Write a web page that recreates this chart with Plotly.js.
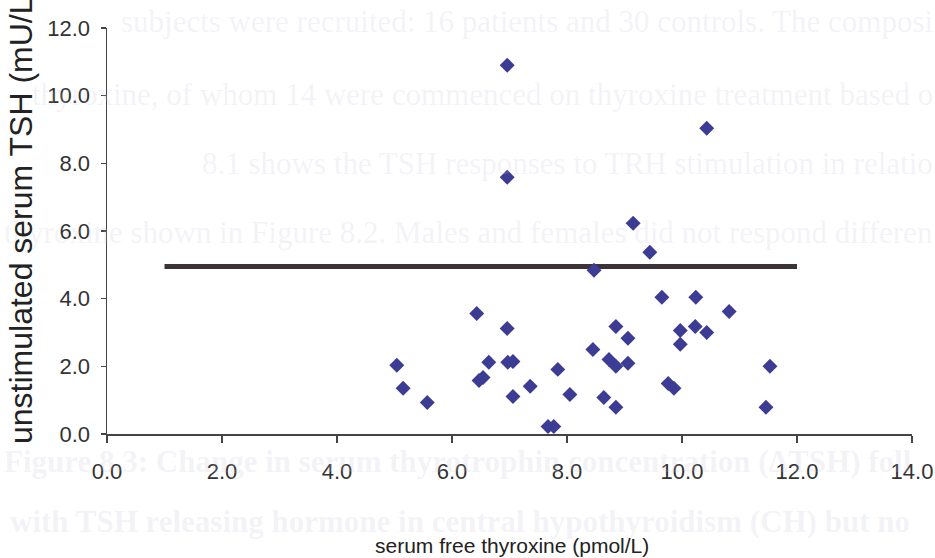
<!DOCTYPE html>
<html>
<head>
<meta charset="utf-8">
<script src="https://cdn.plot.ly/plotly-3.0.1.min.js"></script>
<style>html,body{margin:0;padding:0;background:#fff;}#chart{width:935px;height:558px;}</style>
</head>
<body>
<div id="chart"></div>
<script>
// serum free thyroxine (pmol/L)
var freeT4 = [5.04, 5.15, 5.57, 5.97, 6.43, 6.96, 6.64, 6.47, 6.54, 6.97, 7.06, 7.06, 7.36, 7.84,
              7.67, 7.77, 8.05, 9.65, 10.24, 10.82, 8.85, 9.06, 8.45, 8.73, 8.85, 9.06, 9.97, 9.97,
              10.23, 10.43, 9.76, 9.86, 11.53, 11.46, 8.64, 8.85, 6.96, 10.43, 6.96, 9.15, 9.44, 8.47];
// unstimulated serum TSH (mU/L)
var tsh = [2.03, 1.35, 0.93, -0.1, 3.56, 3.12, 2.12, 1.58, 1.67, 2.12, 2.14, 1.11, 1.41, 1.91,
           0.22, 0.22, 1.17, 4.04, 4.04, 3.62, 3.18, 2.83, 2.50, 2.20, 2.00, 2.09, 3.06, 2.65,
           3.18, 3.00, 1.49, 1.35, 2.00, 0.79, 1.08, 0.79, 10.9, 9.04, 7.59, 6.23, 5.37, 4.84];
// reference line
var refX = [1, 12];
var refY = [4.95, 4.95];
// tick values
var xTicks = [0, 2, 4, 6, 8, 10, 12, 14];
var yTicks = [0, 2, 4, 6, 8, 10, 12];
var xTitle = "serum free thyroxine (pmol/L)";
var yTitle = "unstimulated serum TSH (mU/L)";
// faint show-through text of the scanned page
var bgText = [
  "subjects were recruited: 16 patients and 30 controls. The composi",
  "thyroxine, of whom 14 were commenced on thyroxine treatment based o",
  "8.1 shows the TSH responses to TRH stimulation in relatio",
  "thyroxine shown in Figure 8.2. Males and females did not respond differen",
  "Figure 8.3: Change in serum thyrotrophin concentration (\u0394TSH) foll",
  "with TSH releasing hormone in central hypothyroidism (CH) but no"
];

var L = 107, R = 912, T = 28, B = 434;
function px(x){ return (x - L) / (R - L); }
function py(y){ return (B - y) / (B - T); }

var bgPos = [
  {x: 935, y: 22, anchor: 'right', bold: false},
  {x: 935, y: 95, anchor: 'right', bold: false},
  {x: 935, y: 163, anchor: 'right', bold: false},
  {x: 935, y: 232, anchor: 'right', bold: false},
  {x: 2, y: 462, anchor: 'left', bold: true},
  {x: 8, y: 521, anchor: 'left', bold: true}
];

var annotations = bgText.map(function(t, i){
  var p = bgPos[i];
  return {
    xref: 'paper', yref: 'paper', x: px(p.x), y: py(p.y),
    xanchor: p.anchor, yanchor: 'middle', showarrow: false,
    text: p.bold ? '<b>' + t + '</b>' : t,
    font: {family: 'Liberation Serif, Times New Roman, serif', size: 31, color: 'rgba(195,195,215,0.2)'}
  };
});

annotations.push({
  xref: 'paper', yref: 'paper', x: px(512), y: py(545),
  xanchor: 'center', yanchor: 'middle', showarrow: false,
  text: xTitle,
  font: {family: 'Liberation Sans, Arial, sans-serif', size: 21, color: '#222'}
});
annotations.push({
  xref: 'paper', yref: 'paper', x: px(21), y: py(446),
  xanchor: 'center', yanchor: 'bottom', showarrow: false, textangle: -90,
  text: yTitle,
  font: {family: 'Liberation Sans, Arial, sans-serif', size: 32, color: '#222'}
});

var traces = [
  {
    x: refX, y: refY, mode: 'lines', type: 'scatter',
    line: {color: '#3b3338', width: 5}, hoverinfo: 'skip', showlegend: false
  },
  {
    x: freeT4, y: tsh, mode: 'markers', type: 'scatter', cliponaxis: false,
    marker: {symbol: 'diamond', size: 11.5, color: '#3c3c95', line: {width: 0}},
    showlegend: false
  }
];

var axisFont = {family: 'Liberation Sans, Arial, sans-serif', size: 22, color: '#333'};

var layout = {
  width: 935, height: 558,
  margin: {l: L, r: 935 - R, t: T, b: 558 - B, pad: 0},
  paper_bgcolor: '#ffffff', plot_bgcolor: 'rgba(0,0,0,0)',
  showlegend: false,
  xaxis: {
    range: [0, 14], tickvals: xTicks, ticktext: xTicks.map(function(v){return v.toFixed(1);}),
    showgrid: false, zeroline: false, showline: true, linecolor: '#444', linewidth: 1.5,
    ticks: 'outside', ticklen: 7, tickwidth: 1.5, tickcolor: '#444',
    tickfont: axisFont, ticklabelstandoff: 10
  },
  yaxis: {
    range: [0, 12], tickvals: yTicks, ticktext: yTicks.map(function(v){return v.toFixed(1);}),
    showgrid: false, zeroline: false, showline: true, linecolor: '#444', linewidth: 1.5,
    ticks: 'outside', ticklen: 5, tickwidth: 1.5, tickcolor: '#444',
    tickfont: axisFont, ticklabelstandoff: 6
  },
  annotations: annotations
};

Plotly.newPlot('chart', traces, layout, {displayModeBar: false, staticPlot: true});
</script>
</body>
</html>
